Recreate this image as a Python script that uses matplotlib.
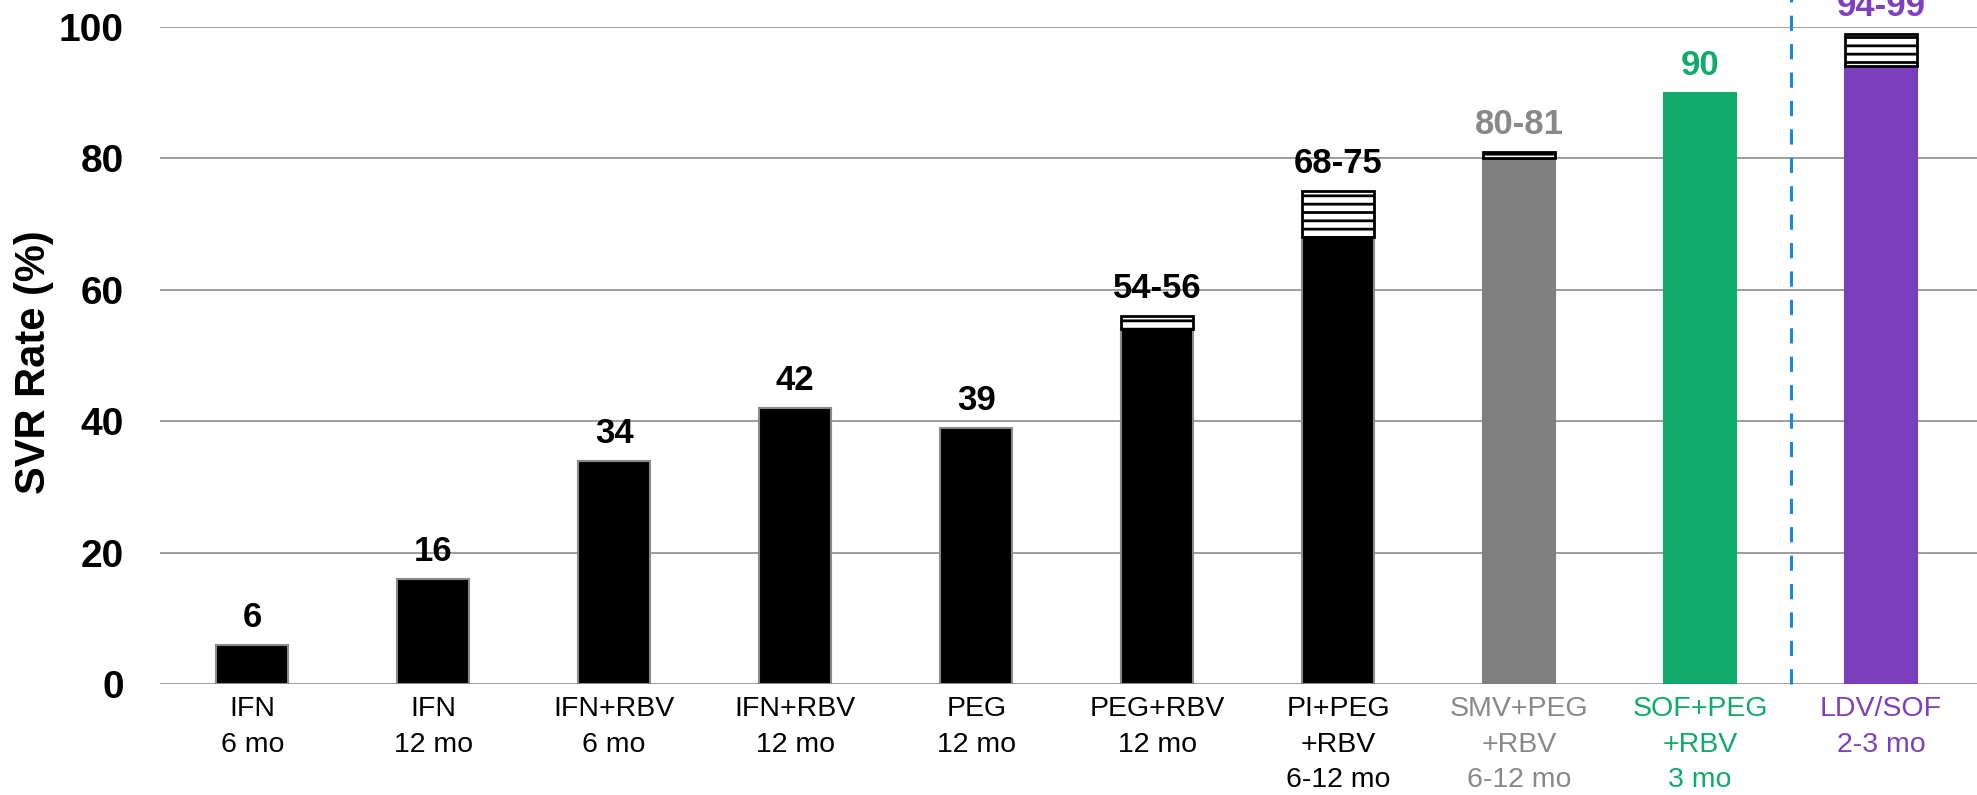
import matplotlib
matplotlib.use("Agg")
import numpy as np
import matplotlib.pyplot as plt

categories = ["IFN\n6 mo", "IFN\n12 mo", "IFN+RBV\n6 mo", "IFN+RBV\n12 mo", "PEG\n12 mo",
              "PEG+RBV\n12 mo", "PI+PEG\n+RBV\n6-12 mo", "SMV+PEG\n+RBV\n6-12 mo",
              "SOF+PEG\n+RBV\n3 mo", "LDV/SOF\n2-3 mo"]
svr_low = [6, 16, 34, 42, 39, 54, 68, 80, 90, 94]
svr_high = [6, 16, 34, 42, 39, 56, 75, 81, 90, 99]
value_labels = ["6", "16", "34", "42", "39", "54-56", "68-75", "80-81", "90", "94-99"]
bar_colors = ["#000000"] * 7 + ["#808080", "#10aa6c", "#7a3dbb"]
edge_colors = ["#8a8a8a"] * 7 + ["#808080", "#10aa6c", "#7a3dbb"]
text_colors = ["#000000"] * 7 + ["#888888", "#10aa6c", "#7e40bd"]
yticks = [0, 20, 40, 60, 80, 100]

plt.rcParams['hatch.linewidth'] = 2.0
fam = ['Liberation Sans', 'DejaVu Sans']

fig = plt.figure(figsize=(19.77, 7.95), dpi=100)
# axes from x=160px to right edge, y=0 at 684px, y=100 at 27px
ax = fig.add_axes([160 / 1977, 111 / 795, 1 - 160 / 1977, 657 / 795])

x = np.arange(len(categories))
low = np.array(svr_low)
high = np.array(svr_high)

ax.bar(x, low, width=0.4, color=bar_colors, edgecolor=edge_colors, linewidth=1.5, zorder=3)
rng = high - low
has_rng = rng > 0
ax.bar(x[has_rng], rng[has_rng], bottom=low[has_rng], width=0.4, color="white",
       edgecolor="black", hatch="--", linewidth=2.0, zorder=3)

for i in range(len(x)):
    ax.annotate(value_labels[i], (x[i], high[i]), xytext=(0, 13), textcoords="offset points",
                ha="center", va="baseline", fontsize=25, fontweight="bold",
                color=text_colors[i], family=fam, annotation_clip=False)

ax.set_xlim(-0.51, 9.53)
ax.set_ylim(0, 100)
ax.set_yticks(yticks)
ax.set_yticklabels([str(t) for t in yticks], fontsize=28, fontweight="bold", family=fam)
ax.tick_params(axis="y", length=0, pad=26)
ax.set_xticks(x)
ax.set_xticklabels(categories, fontsize=20.5, family=fam, linespacing=1.47)
for lbl, c in zip(ax.get_xticklabels(), text_colors):
    lbl.set_color(c)
ax.tick_params(axis="x", length=0, pad=9)

ax.grid(axis="y", color="#8c8c8c", linewidth=1.2, zorder=0)
for s in ax.spines.values():
    s.set_visible(False)

ax.axvline(8.5, ymin=0, ymax=1.045, color="#1a8ad4", linewidth=2.2,
           linestyle=(0, (5, 4.3)), clip_on=False, zorder=4)

ax.set_ylabel("SVR Rate (%)", fontsize=30, fontweight="bold", family=fam)
ax.yaxis.set_label_coords((54 - 160) / (1977 - 160), 0.49)

fig.savefig("out.png", dpi=100)
